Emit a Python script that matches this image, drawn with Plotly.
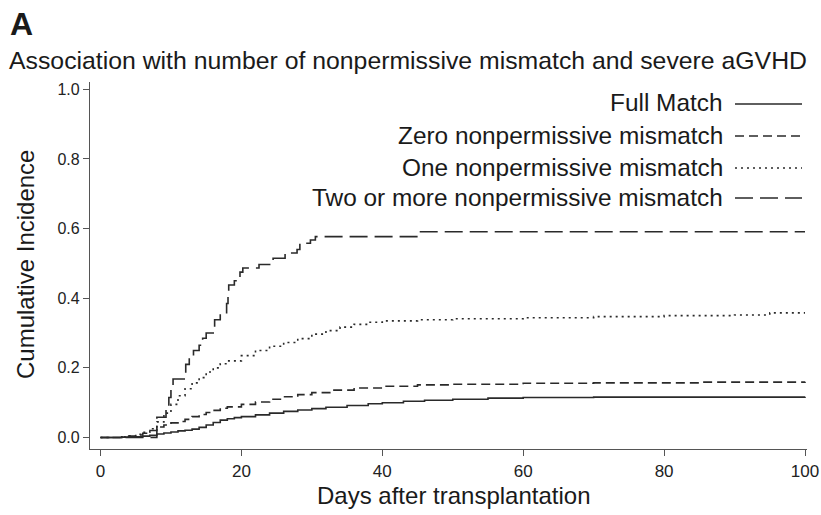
import plotly.graph_objects as go

# ---- data ----
full_days = [0, 3, 5, 6, 7, 8, 9, 10, 11, 12, 13, 14, 15, 16, 17, 18, 19, 20, 22, 24, 26, 28, 30, 32, 35, 38, 40, 43, 46, 50, 55, 60, 70, 100]
full_vals = [0, 0.001, 0.002, 0.004, 0.006, 0.010, 0.013, 0.016, 0.019, 0.021, 0.024, 0.029, 0.036, 0.043, 0.050, 0.054, 0.057, 0.060, 0.065, 0.070, 0.075, 0.079, 0.083, 0.087, 0.092, 0.097, 0.100, 0.104, 0.107, 0.110, 0.113, 0.115, 0.116, 0.117]

zero_days = [0, 3, 4, 5, 6, 7, 8, 9, 10, 11, 12, 13, 14, 15, 16, 17, 18, 20, 22, 24, 26, 28, 30, 33, 36, 40, 45, 50, 60, 70, 85, 100]
zero_vals = [0, 0.002, 0.004, 0.007, 0.012, 0.020, 0.030, 0.036, 0.042, 0.046, 0.052, 0.060, 0.066, 0.072, 0.078, 0.084, 0.088, 0.095, 0.102, 0.110, 0.117, 0.123, 0.129, 0.136, 0.142, 0.147, 0.151, 0.153, 0.156, 0.157, 0.159, 0.160]

one_days = [0, 3, 4, 5, 6, 7, 8, 9, 10, 11, 12, 13, 14, 15, 16, 17, 18, 20, 22, 24, 26, 28, 30, 32, 34, 36, 38, 40, 45, 50, 60, 70, 80, 90, 95, 100]
one_vals = [0, 0.002, 0.005, 0.009, 0.015, 0.025, 0.045, 0.070, 0.095, 0.120, 0.140, 0.157, 0.172, 0.188, 0.200, 0.212, 0.220, 0.235, 0.250, 0.262, 0.273, 0.284, 0.297, 0.307, 0.317, 0.325, 0.331, 0.335, 0.338, 0.341, 0.344, 0.347, 0.350, 0.352, 0.358, 0.358]

two_days = [0, 8.0, 9.3, 9.7, 10.0, 10.3, 12.1, 12.6, 13.2, 14.0, 14.5, 15.0, 16.2, 17.0, 17.9, 18.1, 18.2, 19.0, 19.8, 20.2, 22.5, 24.5, 26.2, 27.9, 28.3, 29.8, 30.5, 44.9, 100]
two_vals = [0, 0.058, 0.088, 0.115, 0.145, 0.168, 0.210, 0.228, 0.250, 0.265, 0.285, 0.300, 0.338, 0.355, 0.385, 0.415, 0.438, 0.450, 0.475, 0.487, 0.497, 0.515, 0.530, 0.540, 0.558, 0.567, 0.577, 0.591, 0.591]

series_names = ["Full Match", "Zero nonpermissive mismatch", "One nonpermissive mismatch", "Two or more nonpermissive mismatch"]
series_days = [full_days, zero_days, one_days, two_days]
series_vals = [full_vals, zero_vals, one_vals, two_vals]
dashes = ["solid", "9px,5px", "2px,4px", "18px,7px"]

x_ticks = [0, 20, 40, 60, 80, 100]
y_ticks = [0.0, 0.2, 0.4, 0.6, 0.8, 1.0]
y_tick_text = ["0.0", "0.2", "0.4", "0.6", "0.8", "1.0"]

# ---- layout geometry (pixels) ----
W, H = 821, 515
L, R, T, B = 90, 807, 82, 449
pw, ph = R - L, B - T

def px(x):
    return (x - L) / pw

def py(y):
    return (B - y) / ph

LINE_COLOR = "#2a2a2a"
FONT = "Liberation Sans, Arial, Helvetica, sans-serif"
TXT = "#1a1a1a"

fig = go.Figure()
for name, d, v, dash in zip(series_names, series_days, series_vals, dashes):
    fig.add_trace(go.Scatter(x=d, y=v, mode="lines", name=name, line_shape="hv",
                             line=dict(color=LINE_COLOR, width=1.6, dash=dash),
                             showlegend=False))

# legend drawn manually (right-aligned text + line sample)
legend_rows = [103, 135, 167, 197]
for name, dash, yrow in zip(series_names, dashes, legend_rows):
    fig.add_annotation(x=px(725), y=py(yrow), xref="paper", yref="paper",
                       text=name, showarrow=False, xanchor="right", yanchor="middle",
                       font=dict(size=24.4, color=TXT, family=FONT))
    fig.add_shape(type="line", xref="paper", yref="paper",
                  x0=px(735), x1=px(802), y0=py(yrow + 1), y1=py(yrow + 1),
                  line=dict(color=LINE_COLOR, width=1.6, dash=dash))

annots = [
    dict(text="<b>A</b>", x=px(8), y=py(24), xanchor="left", size=32),
    dict(text="Association with number of nonpermissive mismatch and severe aGVHD",
         x=px(408), y=py(61), xanchor="center", size=24.8),
    dict(text="Days after transplantation", x=px(453), y=py(495), xanchor="center", size=24),
]
for a in annots:
    fig.add_annotation(x=a["x"], y=a["y"], xref="paper", yref="paper", text=a["text"],
                       showarrow=False, xanchor=a["xanchor"], yanchor="middle",
                       font=dict(size=a["size"], color=TXT, family=FONT))
fig.add_annotation(x=px(25), y=py(265), xref="paper", yref="paper",
                   text="Cumulative Incidence", showarrow=False, textangle=-90,
                   xanchor="center", yanchor="middle",
                   font=dict(size=24, color=TXT, family=FONT))

day_per_px = 100 / (805 - 100.5)
x0 = 0 - (100.5 - L) * day_per_px
x1 = 100 + (R - 805) * day_per_px
val_per_px = 1.0 / (437.5 - 89.3)
y0 = 0 - (B - 437.5) * val_per_px
y1 = 1.0 + (89.3 - T) * val_per_px

fig.update_layout(
    width=W, height=H,
    margin=dict(l=L, r=W - R, t=T, b=H - B, pad=0, autoexpand=False),
    paper_bgcolor="white", plot_bgcolor="white",
    font=dict(family=FONT, color=TXT),
    xaxis=dict(range=[x0, x1], tickvals=x_ticks, ticks="outside", ticklen=6,
               tickcolor="#555", tickwidth=1, showline=True, linecolor="#555",
               linewidth=1.2, showgrid=False, zeroline=False, automargin=False,
               tickfont=dict(size=17, color="#222")),
    yaxis=dict(range=[y0, y1], tickvals=y_ticks, ticktext=y_tick_text, ticks="outside",
               ticklen=6, tickcolor="#555", tickwidth=1, showline=True, linecolor="#555",
               linewidth=1.2, showgrid=False, zeroline=False, automargin=False,
               tickfont=dict(size=16, color="#222")),
)

fig.write_html("out.html")
